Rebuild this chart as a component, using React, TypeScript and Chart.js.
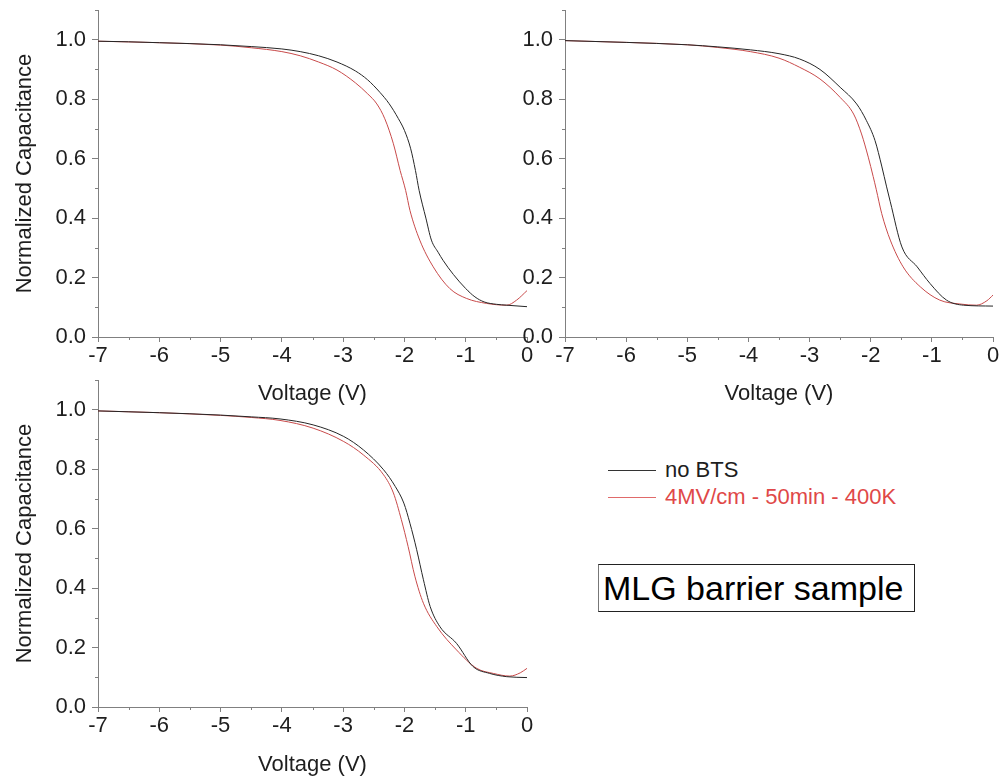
import React, { useEffect, useRef } from "react";
import { Chart, registerables } from "chart.js";

Chart.register(...registerables);

// ---- ticks ----
const X_TICKS = [-7, -6, -5, -4, -3, -2, -1, 0];
const X_MINOR = [-6.5, -5.5, -4.5, -3.5, -2.5, -1.5, -0.5];
const Y_TICKS = [0, 0.2, 0.4, 0.6, 0.8, 1.0];
const Y_MINOR = [0.1, 0.3, 0.5, 0.7, 0.9, 1.1];

const LABEL_NO_BTS = "no BTS";
const LABEL_BTS = "4MV/cm - 50min - 400K";
const X_TITLE = "Voltage (V)";
const Y_TITLE = "Normalized Capacitance";
const SAMPLE_TEXT = "MLG barrier sample";

// ---- top-left panel ----
const TL_NO_BTS_V = [-7, -6.5, -6, -5.5, -5, -4.5, -4, -3.7, -3.4, -3.1, -2.8, -2.6, -2.4, -2.25, -2.1, -2, -1.9, -1.82, -1.76, -1.65, -1.56, -1.45, -1.37, -1.2, -1, -0.85, -0.7, -0.5, -0.33, 0];
const TL_NO_BTS_C = [0.995, 0.993, 0.99, 0.987, 0.983, 0.977, 0.969, 0.96, 0.946, 0.925, 0.895, 0.865, 0.823, 0.785, 0.735, 0.695, 0.635, 0.56, 0.493, 0.4, 0.326, 0.285, 0.258, 0.21, 0.163, 0.135, 0.118, 0.11, 0.107, 0.102];
const TL_BTS_V = [-7, -6, -5, -4.5, -4, -3.7, -3.4, -3.1, -2.8, -2.6, -2.45, -2.32, -2.18, -2.07, -1.98, -1.91, -1.75, -1.53, -1.26, -0.99, -0.66, -0.33, -0.17, 0];
const TL_BTS_C = [0.995, 0.99, 0.982, 0.973, 0.96, 0.946, 0.925, 0.898, 0.855, 0.818, 0.784, 0.734, 0.65, 0.56, 0.493, 0.426, 0.326, 0.236, 0.163, 0.13, 0.113, 0.107, 0.124, 0.156];

// ---- top-right panel ----
const TR_NO_BTS_V = [-7, -6, -5, -4.5, -3.97, -3.5, -3.16, -2.83, -2.5, -2.23, -2.07, -1.93, -1.82, -1.74, -1.68, -1.49, -1.24, -1.03, -0.76, -0.48, 0];
const TR_NO_BTS_C = [0.997, 0.991, 0.983, 0.976, 0.966, 0.953, 0.935, 0.9, 0.84, 0.784, 0.728, 0.661, 0.575, 0.505, 0.455, 0.303, 0.236, 0.18, 0.124, 0.107, 0.104];
const TR_BTS_V = [-7, -6, -5, -4.5, -3.97, -3.5, -3.16, -2.83, -2.5, -2.28, -2.15, -2.04, -1.96, -1.91, -1.82, -1.68, -1.47, -1.19, -0.87, -0.54, -0.27, -0.1, 0];
const TR_BTS_C = [0.997, 0.991, 0.983, 0.974, 0.96, 0.938, 0.907, 0.868, 0.806, 0.75, 0.683, 0.605, 0.54, 0.497, 0.415, 0.326, 0.236, 0.169, 0.124, 0.111, 0.107, 0.122, 0.141];

// ---- bottom-left panel ----
const BL_NO_BTS_V = [-7, -6, -5, -4.5, -4.03, -3.49, -2.99, -2.67, -2.34, -2.15, -2.01, -1.91, -1.8, -1.69, -1.58, -1.42, -1.15, -0.88, -0.61, -0.33, 0];
const BL_NO_BTS_C = [0.996, 0.99, 0.982, 0.976, 0.969, 0.949, 0.91, 0.865, 0.798, 0.742, 0.686, 0.618, 0.529, 0.428, 0.338, 0.27, 0.214, 0.136, 0.113, 0.102, 0.099];
const BL_BTS_V = [-7, -6, -5, -4.5, -4.03, -3.49, -2.99, -2.67, -2.34, -2.18, -2.05, -1.94, -1.83, -1.69, -1.47, -1.15, -0.82, -0.55, -0.28, -0.11, 0];
const BL_BTS_C = [0.996, 0.99, 0.981, 0.974, 0.964, 0.938, 0.893, 0.848, 0.781, 0.72, 0.63, 0.54, 0.44, 0.349, 0.27, 0.192, 0.13, 0.113, 0.104, 0.115, 0.13];

const FONT = "'Liberation Sans', Arial, sans-serif";
const AXIS = "#808080";
const TEXT = "#1e1e1e";
const BLACK_LINE = "#262626";
const RED_LINE = "#c84a4a";
const RED_TEXT = "#e04848";

const zip = (v: number[], c: number[]) => v.map((x, i) => ({ x, y: c[i] }));

const minorTicks = {
  id: "minorTicks",
  afterDraw(chart: any) {
    const ctx = chart.ctx;
    const xs = chart.scales.x;
    const ys = chart.scales.y;
    ctx.save();
    ctx.strokeStyle = AXIS;
    ctx.lineWidth = 1;
    ctx.beginPath();
    X_MINOR.forEach((v) => {
      const px = Math.round(xs.getPixelForValue(v)) + 0.5;
      ctx.moveTo(px, xs.top);
      ctx.lineTo(px, xs.top + 3);
    });
    Y_MINOR.forEach((v) => {
      const py = Math.round(ys.getPixelForValue(v)) + 0.5;
      ctx.moveTo(ys.right, py);
      ctx.lineTo(ys.right - 3, py);
    });
    ctx.stroke();
    ctx.restore();
  },
};

type PanelProps = {
  left: number;
  top: number;
  width: number;
  height: number;
  padTop: number;
  padRight: number;
  yWidth: number;
  xHeight: number;
  showYTitle: boolean;
  black: { x: number; y: number }[];
  red: { x: number; y: number }[];
};

function Panel(p: PanelProps) {
  const ref = useRef<HTMLCanvasElement | null>(null);
  useEffect(() => {
    if (!ref.current) return;
    const tickFont = { family: FONT, size: 22 };
    const chart = new Chart(ref.current, {
      type: "line",
      data: {
        datasets: [
          {
            label: LABEL_NO_BTS,
            data: p.black,
            borderColor: BLACK_LINE,
            borderWidth: 1,
            pointRadius: 0,
            cubicInterpolationMode: "monotone",
            fill: false,
          },
          {
            label: LABEL_BTS,
            data: p.red,
            borderColor: RED_LINE,
            borderWidth: 1,
            pointRadius: 0,
            cubicInterpolationMode: "monotone",
            fill: false,
          },
        ],
      },
      options: {
        animation: false,
        responsive: false,
        maintainAspectRatio: false,
        layout: { padding: { left: 0, top: p.padTop, right: p.padRight, bottom: 0 } },
        plugins: { legend: { display: false }, tooltip: { enabled: false } },
        events: [],
        scales: {
          x: {
            type: "linear",
            min: -7,
            max: 0,
            afterBuildTicks: (s: any) => {
              s.ticks = X_TICKS.map((v) => ({ value: v }));
            },
            afterFit: (s: any) => {
              s.height = p.xHeight;
              s.paddingLeft = 0;
              s.paddingRight = 0;
              s.paddingTop = 0;
              s.paddingBottom = 0;
            },
            grid: { drawOnChartArea: false, drawTicks: true, tickLength: 5, color: AXIS },
            border: { color: AXIS, width: 1 },
            ticks: {
              font: tickFont,
              color: TEXT,
              padding: 1,
              maxRotation: 0,
              autoSkip: false,
              callback: (v: any) => String(v),
            },
            title: {
              display: true,
              text: X_TITLE,
              font: tickFont,
              color: TEXT,
              padding: { top: 0, bottom: 5 },
            },
          },
          y: {
            type: "linear",
            min: 0,
            max: 1.1,
            afterBuildTicks: (s: any) => {
              s.ticks = Y_TICKS.map((v) => ({ value: v }));
            },
            afterFit: (s: any) => {
              s.width = p.yWidth;
              s.paddingLeft = 0;
              s.paddingRight = 0;
              s.paddingTop = 0;
              s.paddingBottom = 0;
            },
            grid: { drawOnChartArea: false, drawTicks: true, tickLength: 6, color: AXIS },
            border: { color: AXIS, width: 1 },
            ticks: {
              font: tickFont,
              color: TEXT,
              padding: 6,
              callback: (v: any) => Number(v).toFixed(1),
            },
            title: {
              display: p.showYTitle,
              text: Y_TITLE,
              font: tickFont,
              color: TEXT,
              padding: { top: 12, bottom: 0 },
            },
          },
        },
      } as any,
      plugins: [minorTicks],
    });
    return () => chart.destroy();
  }, []);
  return (
    <canvas
      ref={ref}
      width={p.width}
      height={p.height}
      style={{ position: "absolute", left: p.left, top: p.top, width: p.width, height: p.height }}
    />
  );
}

export default function App() {
  const textStyle: React.CSSProperties = {
    position: "absolute",
    fontFamily: FONT,
    fontSize: 22,
    lineHeight: "26px",
    whiteSpace: "nowrap",
  };
  return (
    <div style={{ position: "absolute", left: 0, top: 0, width: 1007, height: 783, background: "#fff", overflow: "hidden" }}>
      <Panel left={0} top={0} width={550} height={412} padTop={10} padRight={23} yWidth={98} xHeight={75} showYTitle={true}
        black={zip(TL_NO_BTS_V, TL_NO_BTS_C)} red={zip(TL_BTS_V, TL_BTS_C)} />
      <Panel left={467} top={0} width={540} height={412} padTop={10} padRight={14} yWidth={98} xHeight={75} showYTitle={false}
        black={zip(TR_NO_BTS_V, TR_NO_BTS_C)} red={zip(TR_BTS_V, TR_BTS_C)} />
      <Panel left={0} top={370} width={550} height={413} padTop={10} padRight={23} yWidth={98} xHeight={76} showYTitle={true}
        black={zip(BL_NO_BTS_V, BL_NO_BTS_C)} red={zip(BL_BTS_V, BL_BTS_C)} />

      <div style={{ position: "absolute", left: 608, top: 470, width: 48, borderTop: "1px solid #333" }} />
      <div style={{ ...textStyle, left: 665, top: 457, color: TEXT }}>{LABEL_NO_BTS}</div>
      <div style={{ position: "absolute", left: 608, top: 497, width: 48, borderTop: "1px solid #e06a6a" }} />
      <div style={{ ...textStyle, left: 665, top: 484, color: RED_TEXT }}>{LABEL_BTS}</div>

      <div
        style={{
          position: "absolute",
          left: 598,
          top: 564,
          width: 317,
          height: 48,
          boxSizing: "border-box",
          border: "1px solid #222",
          borderLeft: "1px solid #777",
          fontFamily: FONT,
          fontSize: 34,
          lineHeight: "46px",
          paddingLeft: 4,
          whiteSpace: "nowrap",
          color: "#000",
        }}
      >
        {SAMPLE_TEXT}
      </div>
    </div>
  );
}
